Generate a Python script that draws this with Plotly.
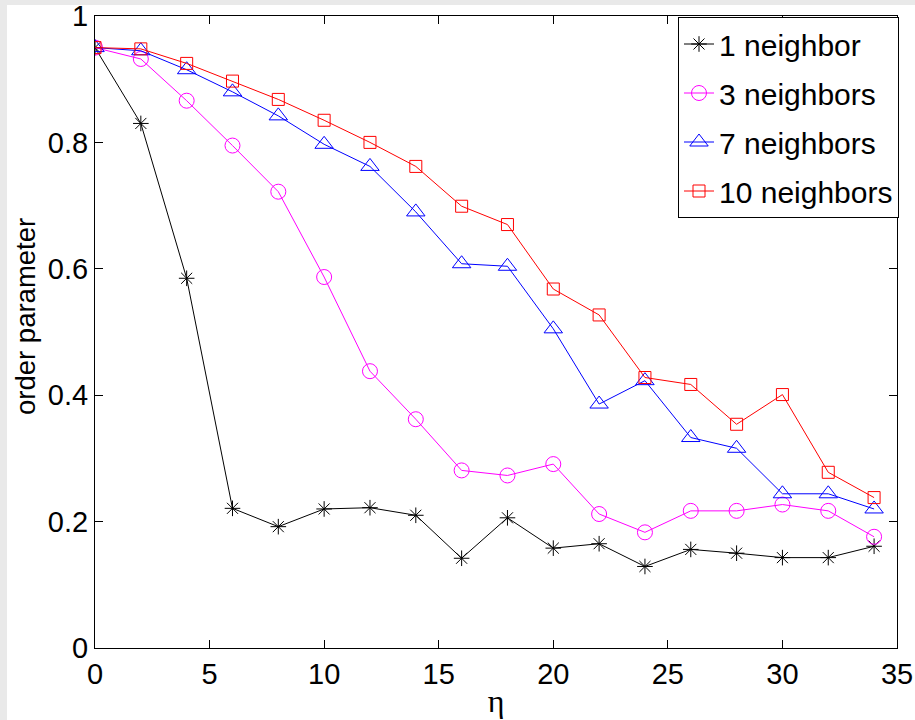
import plotly.graph_objects as go

eta = [0, 2, 4, 6, 8, 10, 12, 14, 16, 18, 20, 22, 24, 26, 28, 30, 32, 34]

n1 = [0.95, 0.83, 0.585, 0.221, 0.192, 0.220, 0.222, 0.210, 0.142, 0.206, 0.158, 0.165,
      0.129, 0.156, 0.150, 0.143, 0.143, 0.161]
n3 = [0.95, 0.932, 0.866, 0.795, 0.722, 0.587, 0.438, 0.362, 0.281, 0.273, 0.291, 0.212,
      0.183, 0.217, 0.217, 0.227, 0.217, 0.176]
n7 = [0.95, 0.945, 0.915, 0.880, 0.842, 0.797, 0.762, 0.690, 0.608, 0.604, 0.505, 0.386,
      0.423, 0.333, 0.316, 0.244, 0.244, 0.220]
n10 = [0.95, 0.948, 0.925, 0.897, 0.868, 0.835, 0.800, 0.762, 0.699, 0.670, 0.568, 0.527,
       0.428, 0.417, 0.354, 0.401, 0.278, 0.238]

series = [
    ("1 neighbor", n1, "#000000", "asterisk-open", 13),
    ("3 neighbors", n3, "#ff00ff", "circle-open", 15),
    ("7 neighbors", n7, "#0000ff", "triangle-up-open", 16),
    ("10 neighbors", n10, "#ff0000", "square-open", 12),
]

xticks = [0, 5, 10, 15, 20, 25, 30, 35]
yticks = [0, 0.2, 0.4, 0.6, 0.8, 1]
ytick_text = ["0", "0.2", "0.4", "0.6", "0.8", "1"]

fig = go.Figure()
for i, (name, vals, col, sym, sz) in enumerate(series):
    fig.add_trace(go.Scatter(
        x=eta, y=vals, name=name, mode="lines+markers",
        legendgroup=f"g{i}",
        line=dict(color=col, width=1),
        marker=dict(symbol=sym, size=sz, color=col, line=dict(color=col, width=1)),
    ))

W, H = 915, 720
ml, mr, mt, mb = 95, 18, 16, 72
pw, ph = W - ml - mr, H - mt - mb

# gray window frame on left/top, white figure area
fig.add_shape(type="rect", xref="paper", yref="paper", layer="below",
              x0=(7 - ml) / pw, x1=1.2, y0=-0.3, y1=(H - mb - 5) / ph,
              fillcolor="white", line=dict(width=0))

font_family = "Liberation Sans, Arial, sans-serif"
fig.update_layout(
    width=W, height=H,
    margin=dict(l=ml, r=mr, t=mt, b=mb, autoexpand=False),
    paper_bgcolor="#e9e9e9",
    plot_bgcolor="white",
    font=dict(family=font_family, size=28, color="black"),
    showlegend=True,
    legend=dict(
        x=1 + 2 / pw, xanchor="right", y=1 - 1 / ph, yanchor="top",
        bgcolor="white", bordercolor="black", borderwidth=1,
        font=dict(size=30), traceorder="grouped", tracegroupgap=7,
        itemwidth=30,
    ),
    xaxis=dict(
        range=[0, 35], tickvals=xticks, ticks="inside", ticklen=8,
        tickcolor="black", showline=True, linecolor="black", linewidth=1,
        mirror="ticks", showgrid=False, zeroline=False, automargin=False,
        tickfont=dict(size=29),
        title=dict(text="η", font=dict(family="Liberation Serif, serif", size=32), standoff=0),
    ),
    yaxis=dict(
        range=[0, 1], tickvals=yticks, ticktext=ytick_text, ticks="inside", ticklen=8,
        tickcolor="black", showline=True, linecolor="black", linewidth=1,
        mirror="ticks", showgrid=False, zeroline=False, automargin=False,
        tickfont=dict(size=29),
    ),
)

fig.add_annotation(
    text="order parameter", xref="paper", yref="paper",
    x=(25 - ml) / pw, y=(H - mb - 317) / ph, textangle=-90,
    showarrow=False, font=dict(size=27.5), xanchor="center", yanchor="middle",
)

fig.write_html("out.html")
